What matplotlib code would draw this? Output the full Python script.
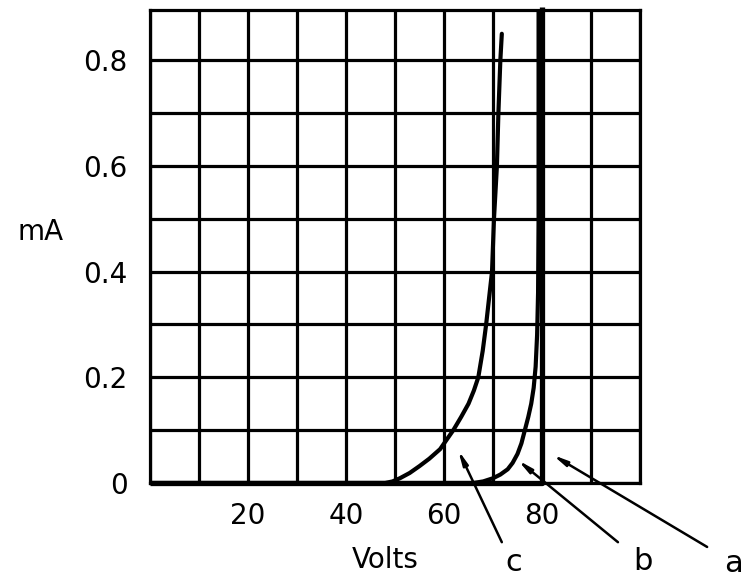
import matplotlib
matplotlib.use("Agg")
import matplotlib.pyplot as plt

# diode characteristics: current (mA) against applied voltage (V)
volts_a = [0, 80, 80]
ma_a = [0, 0, 0.9]

volts_b = [0, 66, 68, 70, 71.5, 73, 74, 75, 75.8, 76.5, 77.2, 77.8, 78.3, 78.7, 79.0, 79.2, 79.3, 79.3]
ma_b = [0, 0, 0.003, 0.009, 0.016, 0.026, 0.038, 0.055, 0.075, 0.1, 0.125, 0.15, 0.18, 0.22, 0.28, 0.36, 0.5, 0.9]

volts_c = [0, 48, 49.5, 51, 53, 55, 57, 59.2, 61.9, 63.5, 65, 66.1, 67.0, 67.9, 68.6, 69.2,
           69.8, 70.2, 70.5, 70.8, 71.1, 71.5, 71.8]
ma_c = [0, 0, 0.003, 0.009, 0.019, 0.032, 0.046, 0.064, 0.1, 0.125, 0.15, 0.175, 0.2, 0.25, 0.3, 0.35,
        0.4, 0.5, 0.55, 0.6, 0.7, 0.8, 0.85]

x_grid = [0, 10, 20, 30, 40, 50, 60, 70, 80, 90, 100]
x_labels = ["", "", "20", "", "40", "", "60", "", "80", "", ""]
y_grid = [0, 0.1, 0.2, 0.3, 0.4, 0.5, 0.6, 0.7, 0.8]
y_labels = ["0", "", "0.2", "", "0.4", "", "0.6", "", "0.8"]

curve_names = ["a", "b", "c"]

plt.rcParams["font.family"] = ["DejaVu Sans"]

fig = plt.figure(figsize=(7.44, 5.87), dpi=100)
ax = fig.add_axes([150 / 744, 1 - 483 / 587, 490 / 744, 473 / 587])

ax.set_xlim(0, 100)
ax.set_ylim(0, 0.895)
ax.set_xticks(x_grid)
ax.set_xticklabels(x_labels)
ax.set_yticks(y_grid)
ax.set_yticklabels(y_labels)
ax.tick_params(axis="both", length=0, labelsize=20)
ax.tick_params(axis="x", pad=14)
ax.tick_params(axis="y", pad=16)
ax.grid(True, color="black", lw=2.3)
ax.set_axisbelow(True)
for s in ax.spines.values():
    s.set_linewidth(2.3)
    s.set_zorder(3)

ax.plot(volts_a, ma_a, color="black", lw=3.8, solid_capstyle="butt", zorder=4, clip_on=False)
ax.plot(volts_b, ma_b, color="black", lw=3.0, solid_joinstyle="round", zorder=4)
ax.plot(volts_c, ma_c, color="black", lw=3.0, solid_joinstyle="round", solid_capstyle="round", zorder=4)

ax.set_ylabel("mA", rotation=0, fontsize=20, ha="center", va="center")
ax.yaxis.set_label_coords(-0.224, 0.531)
ax.set_xlabel("Volts", fontsize=20, ha="center", va="center")
ax.xaxis.set_label_coords(0.48, -0.163)

# pointer lines from each letter to its curve
pointers = {
    "a": ((82.2, 0.053), (113.7, -0.121), (119.0, -0.153)),
    "b": ((75.1, 0.043), (95.5, -0.112), (100.6, -0.149)),
    "c": ((62.9, 0.062), (71.8, -0.112), (74.3, -0.151)),
}
for name in curve_names:
    tip, tail, lab = pointers[name]
    ax.annotate("", xy=tip, xytext=tail, annotation_clip=False,
                arrowprops=dict(arrowstyle="-|>,head_length=0.8,head_width=0.15",
                                color="black", lw=1.8, shrinkA=0, shrinkB=0),
                zorder=5)
    ax.text(lab[0], lab[1], name, fontsize=22, ha="center", va="center", clip_on=False)

fig.savefig("out.png", dpi=100, facecolor="white")
